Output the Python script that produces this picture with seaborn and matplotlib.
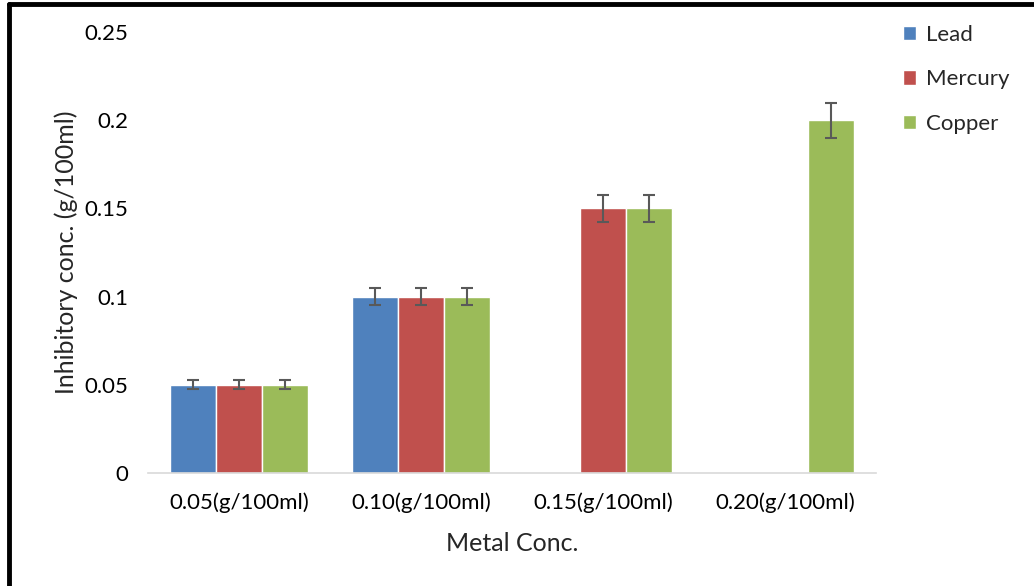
import numpy as np
import pandas as pd
import matplotlib
matplotlib.use("Agg")
import matplotlib.pyplot as plt
from matplotlib.lines import Line2D
import seaborn as sns

# dados
categorias = ["0.05(g/100ml)", "0.10(g/100ml)", "0.15(g/100ml)", "0.20(g/100ml)"]
metais = ["Lead", "Mercury", "Copper"]
lead = [0.05, 0.10, np.nan, np.nan]
mercury = [0.05, 0.10, 0.15, np.nan]
copper = [0.05, 0.10, 0.15, 0.20]
erro_lead = [0.0025, 0.005, np.nan, np.nan]
erro_mercury = [0.0025, 0.005, 0.0075, np.nan]
erro_copper = [0.0025, 0.005, 0.0075, 0.01]

cores = ["#4F81BD", "#C0504D", "#9BBB59"]

df = pd.DataFrame({
    "Categoria": categorias * 3,
    "Metal": [m for m in metais for _ in categorias],
    "Valor": lead + mercury + copper,
})
erros = [erro_lead, erro_mercury, erro_copper]

sns.set_style("white")
plt.rcParams["font.family"] = ["Lato", "DejaVu Sans"]

fig = plt.figure(figsize=(10.34, 5.86), dpi=100)
ax = fig.add_axes([0.143, 0.193, 0.704, 0.752])

sns.barplot(
    data=df,
    x="Categoria",
    y="Valor",
    hue="Metal",
    palette=cores,
    saturation=1,
    errorbar=None,
    width=0.76,
    ax=ax,
)

# barras de erro (seaborn omite as barras NaN, então casa pela posição)
for cont, err in zip(ax.containers, erros):
    xs, ys, es = [], [], []
    for p in cont.patches:
        xc = p.get_x() + p.get_width() / 2
        h = p.get_height()
        if np.isnan(h) or h == 0:
            continue
        xs.append(xc)
        ys.append(h)
        es.append(err[int(round(xc))])
    ax.errorbar(xs, ys, yerr=es, fmt="none", ecolor="#595959",
                elinewidth=1.5, capsize=4.5, capthick=1.5)

ax.set_ylim(0, 0.25)
ax.set_yticks([0, 0.05, 0.1, 0.15, 0.2, 0.25])
ax.set_yticklabels(["0", "0.05", "0.1", "0.15", "0.2", "0.25"])
ax.set_xlim(-0.5, 3.5)
ax.tick_params(axis="both", labelsize=16, length=0, colors="black")
ax.tick_params(axis="y", pad=14)
ax.tick_params(axis="x", pad=14)

ax.set_xlabel("Metal Conc.", fontsize=18, labelpad=14)
ax.set_ylabel("Inhibitory conc. (g/100ml)", fontsize=18, labelpad=5)

for lado in ["top", "right", "left"]:
    ax.spines[lado].set_visible(False)
ax.spines["bottom"].set_color("#D9D9D9")
ax.spines["bottom"].set_linewidth(1.2)

ax.legend(loc="upper left", bbox_to_anchor=(1.01, 1.062), frameon=False,
          fontsize=16, handlelength=0.6, handleheight=0.6, labelspacing=1.1,
          handletextpad=0.45)

# moldura preta
fig.add_artist(Line2D([0.009, 1.0], [0.9935, 0.9935], color="black", lw=3.5,
                      transform=fig.transFigure))
fig.add_artist(Line2D([0.009, 0.009], [0.0, 0.9935], color="black", lw=3.5,
                      transform=fig.transFigure))

plt.savefig("out.png", dpi=100)
